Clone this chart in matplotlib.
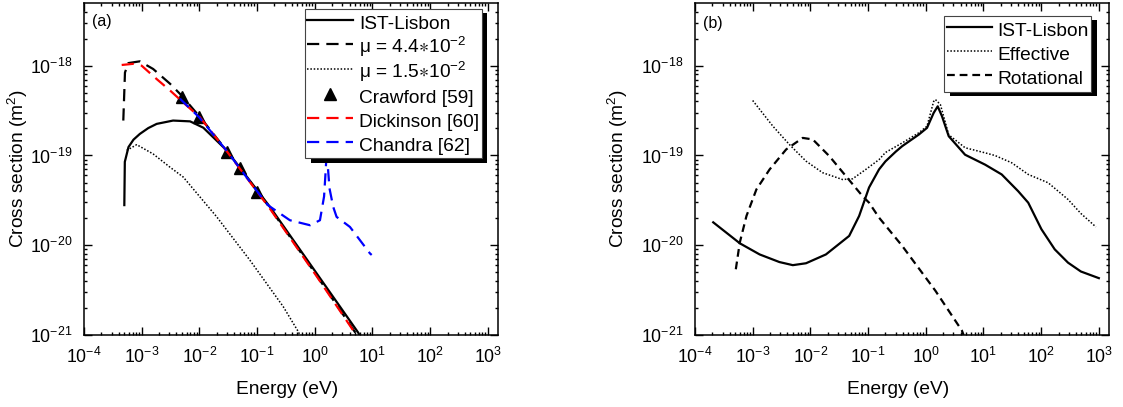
import matplotlib
matplotlib.use('Agg')
import matplotlib.pyplot as plt
from matplotlib.ticker import FixedLocator, NullFormatter, LogFormatterMathtext

plt.rcParams['font.family'] = ['Liberation Sans', 'DejaVu Sans']
plt.rcParams['mathtext.fontset'] = 'custom'
plt.rcParams['mathtext.rm'] = 'Liberation Sans'
plt.rcParams['mathtext.it'] = 'Liberation Sans:italic'
plt.rcParams['mathtext.bf'] = 'Liberation Sans:bold'
plt.rcParams['mathtext.default'] = 'regular'
plt.rcParams['mathtext.fallback'] = 'stixsans'

# ---------------- Panel (a) data ----------------
ist_a_E = [5.0e-4, 5.1e-4, 5.9e-4, 7.2e-4, 9.3e-4, 1.3e-3, 1.82e-3, 3.5e-3, 6.9e-3, 1.17e-2,
           2.97e-2, 1.675e-1, 1.08, 5.68, 6.3]
ist_a_S = [2.8e-20, 8.5e-20, 1.24e-19, 1.5e-19, 1.74e-19, 2.02e-19, 2.25e-19, 2.45e-19, 2.4e-19,
           2.04e-19, 1.14e-19, 2.67e-20, 4.85e-21, 1.06e-21, 9.2e-22]

mu44_E = [4.8e-4, 5.13e-4, 5.86e-4, 9.3e-4, 1.58e-3, 3.1e-3, 4.93e-3, 1.15e-2,
          2.97e-2, 1.675e-1, 1.08, 5.5]
mu44_S = [2.45e-19, 8.4e-19, 1.07e-18, 1.12e-18, 9.2e-19, 6.3e-19, 4.65e-19, 2.45e-19,
          1.13e-19, 2.6e-20, 4.6e-21, 9.8e-22]

mu15_E = [5.5e-4, 8.2e-4, 1.58e-3, 3.1e-3, 5.25e-3, 2.0e-2, 7.53e-2, 2.84e-1, 5.18e-1, 5.6e-1]
mu15_S = [1.14e-19, 1.32e-19, 1.04e-19, 7.4e-20, 5.75e-20, 2.07e-20, 6.8e-21, 2.07e-21,
          1.09e-21, 9.8e-22]

craw_E = [5e-3, 1e-2, 3e-2, 5e-2, 1e-1]
craw_S = [4.5e-19, 2.7e-19, 1.1e-19, 7.2e-20, 3.9e-20]

dick_E = [4.5e-4, 7.1e-4, 1.0e-3, 1.82e-3, 3.1e-3, 5.6e-3, 1.02e-2, 2.97e-2,
          1.675e-1, 1.08, 4.98, 5.3]
dick_S = [1.02e-18, 1.05e-18, 1.0e-18, 7.1e-19, 5.3e-19, 3.75e-19, 2.67e-19, 1.12e-19,
          2.55e-20, 4.5e-21, 1.05e-21, 9.8e-22]

chan_E = [4.6e-3, 1e-2, 3e-2, 1e-1, 1.56e-1, 3.7e-1, 8.3e-1, 1.23, 1.45, 1.55, 1.62,
          1.7, 1.8, 2.09, 2.39, 4.07, 9.06, 9.7]
chan_S = [4.3e-19, 2.65e-19, 1.12e-19, 4.0e-20, 2.78e-20, 1.9e-20, 1.67e-20, 1.9e-20,
          3.5e-20, 7.0e-20, 1.2e-19, 7.0e-20, 4.3e-20, 2.67e-20, 2.07e-20, 1.6e-20,
          8.1e-21, 7.8e-21]

# ---------------- Panel (b) data ----------------
ist_b_E = [2.07e-4, 6.0e-4, 1.32e-3, 2.9e-3, 4.96e-3, 8.4e-3, 1.86e-2, 4.7e-2, 7.0e-2,
           1.04e-1, 1.55e-1, 2.0e-1, 3.0e-1, 3.9e-1, 7.57e-1, 1.05, 1.37, 1.61, 1.91, 2.5,
           4.8, 10.7, 20.7, 40.0, 59.7, 101.0, 172.0, 292.0, 488.0, 1000.0]
ist_b_S = [1.8e-20, 1.05e-20, 7.9e-21, 6.5e-21, 6.0e-21, 6.3e-21, 7.9e-21, 1.27e-20, 2.12e-20,
           4.4e-20, 7.0e-20, 8.6e-20, 1.1e-19, 1.27e-19, 1.71e-19, 2.03e-19, 2.98e-19, 3.53e-19,
           2.74e-19, 1.64e-19, 1.02e-19, 7.9e-20, 6.15e-20, 4.0e-20, 2.98e-20, 1.51e-20,
           9.0e-21, 6.4e-21, 5.1e-21, 4.3e-21]

eff_E = [1.0e-3, 2.24e-3, 4.35e-3, 8.4e-3, 1.63e-2, 3.6e-2, 5.4e-2, 9.1e-2, 1.55e-1,
         2.0e-1, 3.9e-1, 7.57e-1, 1.05, 1.37, 1.47, 1.79, 2.5, 4.8, 10.7, 15.8, 30.8,
         59.7, 132.0, 292.0, 488.0, 890.0]
eff_S = [4.1e-19, 2.12e-19, 1.32e-19, 8.65e-20, 6.43e-20, 5.4e-20, 5.5e-20, 6.98e-20,
         9.0e-20, 1.08e-19, 1.38e-19, 1.79e-19, 2.12e-19, 4.0e-19, 4.2e-19, 3.7e-19,
         1.7e-19, 1.22e-19, 1.07e-19, 1.0e-19, 8.3e-20, 6.15e-20, 4.97e-20, 3.24e-20,
         2.26e-20, 1.6e-20]

rot_E = [5.1e-4, 5.97e-4, 7.8e-4, 1.16e-3, 1.96e-3, 3.81e-3, 7.36e-3, 1.1e-2, 2.13e-2,
         4.13e-2, 8.0e-2, 1.04e-1, 1.55e-1, 3.9e-1, 1.47, 4.23, 4.52]
rot_S = [5.4e-21, 1.07e-20, 2.12e-20, 4.19e-20, 6.98e-20, 1.17e-19, 1.57e-19, 1.51e-19,
         9.84e-20, 5.89e-20, 3.53e-20, 2.98e-20, 2.03e-20, 9.84e-21, 3.11e-21, 1.12e-21,
         1.0e-21]

labels_a = ['IST-Lisbon', 'μ = 4.4$\\ast$10$^{-2}$', 'μ = 1.5$\\ast$10$^{-2}$', 'Crawford [59]',
            'Dickinson [60]', 'Chandra [62]']
labels_b = ['IST-Lisbon', 'Effective', 'Rotational']

x_major = [1e-4, 1e-3, 1e-2, 1e-1, 1e0, 1e1, 1e2, 1e3]
y_major = [1e-21, 1e-20, 1e-19, 1e-18]
XLIM = (1e-4, 1.5e3)
YLIM = (1e-21, 5e-18)

FS_TICK = 12.8
FS_LAB = 13.8
FS_LEG = 13.8
W, H = 1123, 407
fig = plt.figure(figsize=(W / 100, H / 100), dpi=100)
ax1 = fig.add_axes([84 / W, 72 / H, 414 / W, 332 / H])
ax2 = fig.add_axes([695 / W, 72 / H, 414 / W, 332 / H])

dash_long = (0, (5.5, 3.2))
dotted = (0, (1, 1.2))

la = []
la.append(ax1.plot(ist_a_E, ist_a_S, color='black', lw=1.6, ls='-')[0])
la.append(ax1.plot(mu44_E, mu44_S, color='black', lw=1.6, ls=dash_long)[0])
la.append(ax1.plot(mu15_E, mu15_S, color='black', lw=1.1, ls=dotted)[0])
la.append(ax1.plot(craw_E, craw_S, color='black', ls='none', marker='^', ms=8)[0])
la.append(ax1.plot(dick_E, dick_S, color='#ff0000', lw=1.6, ls=dash_long)[0])
la.append(ax1.plot(chan_E, chan_S, color='#0000ff', lw=1.6, ls=dash_long)[0])

lb = []
lb.append(ax2.plot(ist_b_E, ist_b_S, color='black', lw=1.6, ls='-')[0])
lb.append(ax2.plot(eff_E, eff_S, color='black', lw=1.1, ls=dotted)[0])
lb.append(ax2.plot(rot_E, rot_S, color='black', lw=1.6, ls=(0, (3.5, 2.2)))[0])


def minors(majors, lo, hi):
    out = []
    for m in majors:
        for k in range(2, 10):
            v = m * k
            if lo < v < hi:
                out.append(v)
    return out


for ax, lab, ylx, lx, ly in ((ax1, '(a)', -0.16, 0.02, 0.967),
                             (ax2, '(b)', -0.186, 0.019, 0.961)):
    ax.set_xscale('log')
    ax.set_yscale('log')
    ax.set_xlim(*XLIM)
    ax.set_ylim(*YLIM)
    ax.xaxis.set_major_locator(FixedLocator(x_major))
    ax.xaxis.set_minor_locator(FixedLocator(minors(x_major, *XLIM)))
    ax.yaxis.set_major_locator(FixedLocator(y_major))
    ax.yaxis.set_minor_locator(FixedLocator(minors(y_major, *YLIM)))
    ax.xaxis.set_major_formatter(LogFormatterMathtext())
    ax.yaxis.set_major_formatter(LogFormatterMathtext())
    ax.xaxis.set_minor_formatter(NullFormatter())
    ax.yaxis.set_minor_formatter(NullFormatter())
    ax.tick_params(which='both', direction='in', top=True, right=True, labelsize=FS_TICK, width=1)
    ax.tick_params(which='major', length=5.5)
    ax.tick_params(which='minor', length=2.5)
    ax.tick_params(axis='x', which='major', pad=8.5)
    ax.tick_params(axis='y', which='major', pad=8.5)
    for s in ax.spines.values():
        s.set_linewidth(1.1)
    ax.set_xlabel('Energy (eV)', fontsize=FS_LAB)
    ax.set_ylabel('Cross section (m$^2$)', fontsize=FS_LAB)
    ax.xaxis.label.set_va('center')
    ax.yaxis.label.set_va('center')
    ax.xaxis.set_label_coords(0.49, -0.165)
    ax.yaxis.set_label_coords(ylx, 0.5)
    ax.text(lx, ly, lab, transform=ax.transAxes, fontsize=11.5, va='top', ha='left')

shadow = {'ox': 4.0, 'oy': -3.2, 'facecolor': 'black', 'edgecolor': 'none', 'alpha': 1}
leg1 = ax1.legend(la, labels_a, loc='upper left', bbox_to_anchor=(0.534, 0.982),
                  fontsize=FS_LEG, fancybox=False, edgecolor='#444444', framealpha=1,
                  borderpad=0.12, labelspacing=0.03, handlelength=2.4, handletextpad=0.3,
                  handleheight=1.5, borderaxespad=0, shadow=shadow)
leg1.get_frame().set_linewidth(0.8)
leg2 = ax2.legend(lb, labels_b, loc='upper left', bbox_to_anchor=(0.602, 0.961),
                  fontsize=FS_LEG, fancybox=False, edgecolor='#444444', framealpha=1,
                  borderpad=0.12, labelspacing=0.03, handlelength=2.35, handletextpad=0.3,
                  handleheight=1.5, borderaxespad=0, shadow=shadow)
leg2.get_frame().set_linewidth(0.8)

fig.savefig('out.png', dpi=100)
